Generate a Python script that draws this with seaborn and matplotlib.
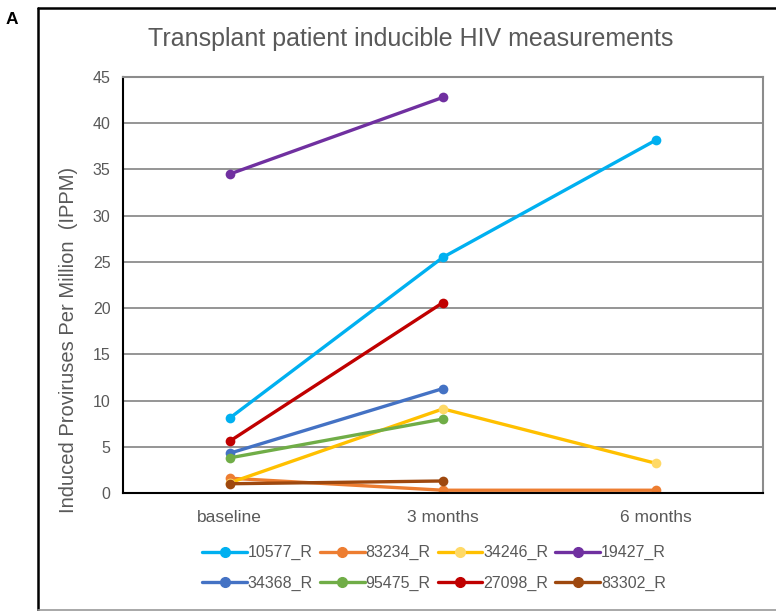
import numpy as np
import pandas as pd
import seaborn as sns
import matplotlib.pyplot as plt
from matplotlib.lines import Line2D

# Data
timepoints = ["baseline", "3 months", "6 months"]
patients = ["10577_R", "83234_R", "34246_R", "19427_R",
            "34368_R", "95475_R", "27098_R", "83302_R"]
colors = ["#00B0F0", "#ED7D31", "#FFC000", "#7030A0",
          "#4472C4", "#70AD47", "#C00000", "#9E480E"]
marker_colors = ["#00B0F0", "#ED7D31", "#FFD966", "#7030A0",
                 "#4472C4", "#70AD47", "#C00000", "#9E480E"]

v_10577 = [8.1, 25.5, 38.2]
v_83234 = [1.6, 0.3, 0.3]
v_34246 = [1.1, 9.1, 3.2]
v_19427 = [34.5, 42.8, np.nan]
v_34368 = [4.3, 11.3, np.nan]
v_95475 = [3.8, 8.0, np.nan]
v_27098 = [5.6, 20.6, np.nan]
v_83302 = [1.0, 1.3, np.nan]
values = [v_10577, v_83234, v_34246, v_19427, v_34368, v_95475, v_27098, v_83302]

rows = []
for p, vals in zip(patients, values):
    for i, v in enumerate(vals):
        if not np.isnan(v):
            rows.append({"patient": p, "pos": i, "ippm": v})
df = pd.DataFrame(rows)

sns.set_style("white")
plt.rcParams["font.family"] = ["Liberation Sans", "DejaVu Sans"]

fig = plt.figure(figsize=(7.76, 6.11), dpi=100)
W, H = 776, 611
ax = fig.add_axes([123 / W, 1 - 493 / H, (763 - 123) / W, (493 - 77) / H])

sns.lineplot(data=df, x="pos", y="ippm", hue="patient", hue_order=patients,
             palette=dict(zip(patients, colors)), marker="o", markersize=7,
             markeredgewidth=0, linewidth=2.4, estimator=None, sort=False,
             legend=False, ax=ax)

for line, mc in zip(ax.get_lines(), marker_colors):
    line.set_markerfacecolor(mc)
    line.set_markeredgecolor(mc)
    line.set_solid_capstyle("round")

ax.set_xlim(-0.5, 2.5)
ax.set_ylim(0, 45)
ax.set_xticks(range(len(timepoints)))
ax.set_xticklabels(timepoints)
ax.set_yticks(range(0, 46, 5))
ax.yaxis.grid(True, color="#8c8c8c", linewidth=1.3)
ax.set_axisbelow(True)
ax.tick_params(axis="both", length=0, labelcolor="#595959")
ax.tick_params(axis="x", pad=12, labelsize=12.5)
ax.tick_params(axis="y", pad=9, labelsize=11.5)
for s in ["top", "right"]:
    ax.spines[s].set_color("#8c8c8c")
    ax.spines[s].set_linewidth(1.5)
for s in ["left", "bottom"]:
    ax.spines[s].set_color("#000000")
    ax.spines[s].set_linewidth(1.5)
ax.set_xlabel("")
ax.set_ylabel("Induced Proviruses Per Million  (IPPM)", fontsize=14.5,
              color="#595959")
ax.yaxis.set_label_coords((78 - 123) / 640, (493 - 340) / 416)

fig.text(411 / W, 1 - 39 / H, "Transplant patient inducible HIV measurements",
         ha="center", va="center", fontsize=18, color="#595959")
fig.text(12 / W, 1 - 19 / H, "A", ha="center", va="center", fontsize=12.5,
         fontweight="bold", color="#000000")

# outer frame of the panel
fig.add_artist(Line2D([38 / W, 38 / W], [1 - 8 / H, 1 - 610 / H],
                      transform=fig.transFigure, color="black", linewidth=1.8))
fig.add_artist(Line2D([38 / W, 1.0], [1 - 8 / H, 1 - 8 / H],
                      transform=fig.transFigure, color="black", linewidth=1.8))
fig.add_artist(Line2D([38 / W, 1.0], [1 - 610 / H, 1 - 610 / H],
                      transform=fig.transFigure, color="#999999", linewidth=1.2))

handles = [Line2D([0], [0], color=c, linewidth=2.4, marker="o", markersize=7,
                  markerfacecolor=mc, markeredgecolor=mc)
           for c, mc in zip(colors, marker_colors)]
# legend fills column-wise, so reorder to read row-wise like the original
order = [0, 4, 1, 5, 2, 6, 3, 7]
fig.legend([handles[i] for i in order], [patients[i] for i in order],
           loc="center", ncol=4, frameon=False,
           bbox_to_anchor=(434 / W, 1 - 568 / H), fontsize=11.5,
           labelcolor="#595959", handlelength=2.8, handletextpad=0.05,
           columnspacing=0.45, labelspacing=0.95)

fig.savefig("out.png", dpi=100)
